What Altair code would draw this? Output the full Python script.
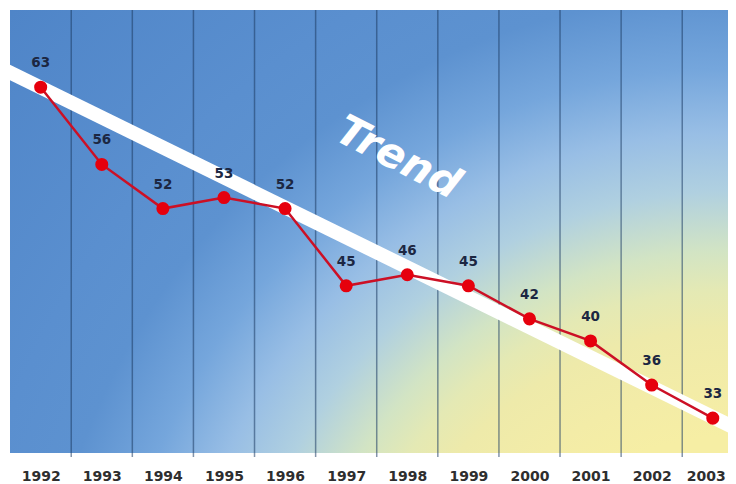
import altair as alt
import pandas as pd

# ---- data ----
years = [1992, 1993, 1994, 1995, 1996, 1997, 1998, 1999, 2000, 2001, 2002, 2003]
values = [63, 56, 52, 53, 52, 45, 46, 45, 42, 40, 36, 33]
grid_years = [1992.5, 1993.5, 1994.5, 1995.5, 1996.5, 1997.5, 1998.5, 1999.5,
              2000.5, 2001.5, 2002.5]
trend_years = [1991.4, 2003.4]
trend_values = [64.6, 32.0]
annot_text = ["Trend"]
annot_year = [1997.85]
annot_value = [56.6]

W, H = 718, 443

df = pd.DataFrame({"year": years, "value": values})
df_grid = pd.DataFrame({"year": grid_years})
df_trend = pd.DataFrame({"year": trend_years, "value": trend_values})
df_annot = pd.DataFrame({"year": annot_year, "value": annot_value, "text": annot_text})

xs = alt.Scale(domain=[1991.498, 2003.249], nice=False, zero=False)
ys = alt.Scale(domain=[29.84, 70], nice=False, zero=False)
xaxis = alt.Axis(values=years, format="d", title=None, grid=False, ticks=False,
                 domain=False, labelFont="DejaVu Sans", labelFontWeight="bold",
                 labelFontSize=14, labelColor="#2e2e2e", labelPadding=16,
                 labelOverlap=False,
                 labelOffset={"condition": {"test": "datum.value == 2003", "value": -7},
                              "value": 0})

X = lambda: alt.X("year:Q", scale=xs, axis=xaxis)
Y = lambda: alt.Y("value:Q", scale=ys, axis=None)

grad_r = alt.RadialGradient(
    gradient="radial", x1=1, y1=1.129, r1=0, x2=1, y2=1.129, r2=1.369,
    stops=[
        alt.GradientStop(color="#f6eea4", offset=0.0),
        alt.GradientStop(color="#f6eea4", offset=0.25),
        alt.GradientStop(color="#f3eca7", offset=0.30),
        alt.GradientStop(color="#eeeaaa", offset=0.36),
        alt.GradientStop(color="#e4e9b4", offset=0.40),
        alt.GradientStop(color="#d2e4c4", offset=0.44),
        alt.GradientStop(color="#b0d0e0", offset=0.50),
        alt.GradientStop(color="#98bee5", offset=0.56),
        alt.GradientStop(color="#75a6dc", offset=0.625),
        alt.GradientStop(color="#5d92d0", offset=0.70),
        alt.GradientStop(color="#5a8fcf", offset=0.78),
        alt.GradientStop(color="#4f85c8", offset=1.0),
    ],
)

one = pd.DataFrame({"a": [0]})
bg = alt.Chart(one).mark_rect(color=grad_r).encode(
    x=alt.value(0), x2=alt.value(W), y=alt.value(0), y2=alt.value(H)
)

grid = alt.Chart(df_grid).mark_rule(color="#1e3c64", opacity=0.55, strokeWidth=1.5).encode(
    x=X(), y=alt.value(0), y2=alt.value(H + 4)
)

trend = alt.Chart(df_trend).mark_line(color="white", strokeWidth=14, clip=True,
                                       strokeCap="butt").encode(x=X(), y=Y())

trend_txt = alt.Chart(df_annot).mark_text(
    angle=27, font="DejaVu Sans", fontSize=42, fontWeight="bold", fontStyle="italic",
    color="white", align="center", baseline="middle"
).encode(x=X(), y=Y(), text="text:N")

line = alt.Chart(df).mark_line(color="#cc1025", strokeWidth=2.5).encode(x=X(), y=Y())
pts = alt.Chart(df).mark_circle(size=170, color="#e6000d", opacity=1).encode(x=X(), y=Y())
labels = alt.Chart(df).mark_text(
    dy=-24, font="DejaVu Sans", fontWeight="bold", fontSize=13.5, color="#1c2742",
    baseline="middle"
).encode(x=X(), y=Y(), text="value:Q")

chart = alt.layer(bg, grid, trend, trend_txt, line, pts, labels).properties(
    width=W, height=H,
    padding={"left": 2, "top": 1, "right": 0, "bottom": 0},
).configure_view(stroke=None)

chart.save("out.html", embed_options={"renderer": "svg", "actions": False})
